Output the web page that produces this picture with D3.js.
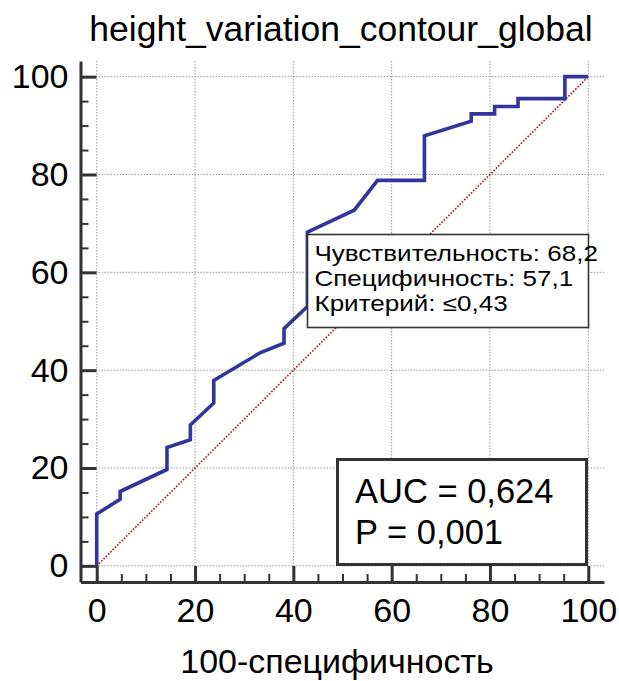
<!DOCTYPE html>
<html>
<head>
<meta charset="utf-8">
<script src="https://cdn.jsdelivr.net/npm/d3@7"></script>
<style>
  html, body { margin: 0; padding: 0; background: #fff; }
  svg text { font-family: "Liberation Sans", Arial, sans-serif; fill: #000; }
</style>
</head>
<body>
<svg id="chart" width="619" height="681"></svg>
<script>
// ROC curve: 100-specificity (x) vs sensitivity (y), in percent
const fpr = [0, 0, 4.76, 4.76, 14.29, 14.29, 19.05, 19.05, 23.81, 23.81, 33.33, 38.1, 38.1, 42.86, 42.86, 52.38, 57.14, 66.67, 66.67, 76.19, 76.19, 80.95, 80.95, 85.71, 85.71, 95.24, 95.24, 100];
const tpr = [0, 10.6, 13.6, 15.2, 19.7, 24.2, 25.8, 28.8, 33.3, 37.9, 43.6, 45.5, 48.5, 53.0, 68.2, 72.7, 78.8, 78.8, 87.9, 90.9, 92.4, 92.4, 93.9, 93.9, 95.5, 95.5, 100, 100];

const majorTicks = [0, 20, 40, 60, 80, 100];
const minorTicks = [5, 10, 15, 25, 30, 35, 45, 50, 55, 65, 70, 75, 85, 90, 95];

const titleText = "height_variation_contour_global";
const xLabel = "100-специфичность";
const criterionLines = ["Чувствительность: 68,2", "Специфичность: 57,1", "Критерий: ≤0,43"];
const statLines = ["AUC = 0,624", "P = 0,001"];

const svg = d3.select("#chart");

// axis frame extends a little beyond the 0..100 data range
const x = d3.scaleLinear().domain([-3.3, 103.2]).range([80.5, 604]);
const y = d3.scaleLinear().domain([-3.3, 103.2]).range([582, 61]);

const axisColor = "#333";

// dotted grid at major ticks
const grid = svg.append("g");
grid.selectAll("line.v").data(majorTicks).join("line")
  .attr("x1", d => x(d)).attr("x2", d => x(d))
  .attr("y1", y.range()[1]).attr("y2", y.range()[0])
  .attr("stroke", "#9a9a9a").attr("stroke-width", 1).attr("stroke-dasharray", "1.5,1.5");
grid.selectAll("line.h").data(majorTicks).join("line")
  .attr("y1", d => y(d)).attr("y2", d => y(d))
  .attr("x1", x.range()[0]).attr("x2", x.range()[1])
  .attr("stroke", "#9a9a9a").attr("stroke-width", 1).attr("stroke-dasharray", "1.5,1.5");

// chance diagonal
svg.append("line")
  .attr("x1", x(0)).attr("y1", y(0)).attr("x2", x(100)).attr("y2", y(100))
  .attr("stroke", "#9b1b1b").attr("stroke-width", 1.6).attr("stroke-dasharray", "1.6,1.6");

// ROC curve
const pts = fpr.map((v, i) => [v, tpr[i]]);
svg.append("path")
  .datum(pts)
  .attr("d", d3.line().x(d => x(d[0])).y(d => y(d[1])))
  .attr("fill", "none").attr("stroke", "#34359b").attr("stroke-width", 3.6)
  .attr("stroke-linejoin", "miter");

// axes: major ticks point inward, labels outside
const fontSize = 34;
const yAxis = d3.axisLeft(y).tickValues(majorTicks).tickSizeInner(-16).tickSizeOuter(0).tickPadding(12)
  .tickFormat(d3.format("d"));
const xAxis = d3.axisBottom(x).tickValues(majorTicks).tickSizeInner(-16).tickSizeOuter(0).tickPadding(16)
  .tickFormat(d3.format("d"));

const gy = svg.append("g").attr("transform", `translate(${x.range()[0]},0)`).call(yAxis);
const gx = svg.append("g").attr("transform", `translate(0,${y.range()[0]})`).call(xAxis);

[gx, gy].forEach(g => {
  g.select(".domain").attr("stroke", axisColor).attr("stroke-width", 3);
  g.selectAll(".tick line").attr("stroke", axisColor).attr("stroke-width", 3);
  g.selectAll(".tick text").attr("font-size", fontSize).attr("font-family", "Liberation Sans, Arial, sans-serif").attr("fill", "#000");
});

// minor ticks
svg.append("g").attr("transform", `translate(${x.range()[0]},0)`)
  .call(d3.axisLeft(y).tickValues(minorTicks).tickSizeInner(-8).tickSizeOuter(0).tickFormat(""))
  .call(g => g.select(".domain").remove())
  .call(g => g.selectAll(".tick line").attr("stroke", axisColor).attr("stroke-width", 2));
svg.append("g").attr("transform", `translate(0,${y.range()[0]})`)
  .call(d3.axisBottom(x).tickValues(minorTicks).tickSizeInner(-8).tickSizeOuter(0).tickFormat(""))
  .call(g => g.select(".domain").remove())
  .call(g => g.selectAll(".tick line").attr("stroke", axisColor).attr("stroke-width", 2));

// title and axis label
svg.append("text").attr("x", 341).attr("y", 41).attr("text-anchor", "middle")
  .attr("font-size", 35.5).text(titleText);
svg.append("text").attr("x", 337).attr("y", 673).attr("text-anchor", "middle")
  .attr("font-size", fontSize).text(xLabel);

// criterion box at the selected cut-off
const cb = svg.append("g").attr("transform", "translate(307.5,234.5)");
cb.append("rect").attr("width", 281).attr("height", 93)
  .attr("fill", "#fff").attr("stroke", "#333").attr("stroke-width", 1.6);
cb.append("g").attr("transform", "translate(7,0) scale(1.21,1)")
  .selectAll("text").data(criterionLines).join("text")
  .attr("x", 0).attr("y", (d, i) => 26.5 + i * 25)
  .attr("font-size", 21.5).text(d => d);

// AUC box
const sb = svg.append("g").attr("transform", "translate(337.5,459.5)");
sb.append("rect").attr("width", 249).attr("height", 105)
  .attr("fill", "#fff").attr("stroke", "#333").attr("stroke-width", 3);
sb.selectAll("text").data(statLines).join("text")
  .attr("x", 17.5).attr("y", (d, i) => 43 + i * 41)
  .attr("font-size", 34.5).text(d => d);
</script>
</body>
</html>
